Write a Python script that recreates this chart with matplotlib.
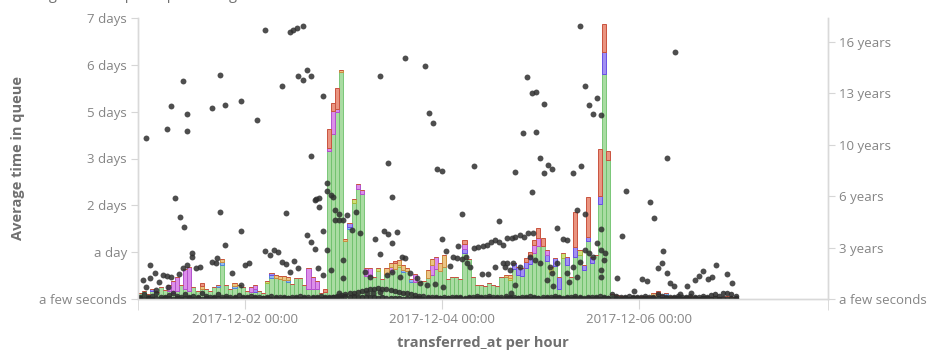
import matplotlib
matplotlib.use('Agg')
import matplotlib.pyplot as plt
import matplotlib.dates as mdates
from datetime import datetime, timedelta
import numpy as np

plt.rcParams['font.family'] = ['Open Sans', 'DejaVu Sans']

# hourly buckets, first bucket 2017-11-30 22:00
start = datetime(2017, 11, 30, 22)

# total bar height per hour (hours in queue)
bar_total_h = [
    3.5, 4.7, 3.0, 5.9, 4.1, 7.1, 5.3, 8.3, 10.6, 13.0, 8.3, 17.7, 18.9, 7.1, 4.7, 9.5,
    5.9, 4.7, 7.1, 8.3, 23.6, 8.3, 5.9, 9.5, 8.3, 7.1, 4.7, 7.1, 8.3, 4.7, 3.5, 10.6,
    15.4, 14.2, 13.6, 13.6, 13.0, 8.9, 12.4, 12.4, 8.3, 18.3, 13.0, 10.6, 3.5, 5.9,
    101.0, 116.4, 125.3, 135.9, 35.5, 44.9, 59.1, 68.0, 64.4,
    18.3, 18.3, 13.0, 18.3, 11.8, 18.3, 21.3, 22.5, 23.0,
    20.1, 18.3, 11.8, 14.8, 10.0, 10.6, 17.1, 23.6, 24.8, 21.3, 26.0, 11.8, 13.0, 13.0,
    11.8, 34.9, 23.6, 13.0, 8.3, 8.3, 7.7, 9.5, 8.3, 7.7,
    13.0, 14.2, 14.2, 21.3, 18.9, 18.3, 24.2, 27.8, 34.9, 42.0, 36.0, 29.0, 18.9, 24.2,
    13.0, 27.2, 24.8, 13.0, 51.4, 29.0, 20.1, 60.3, 24.8, 26.0, 89.2, 163.1, 87.5,
    3.0, 2.4, 1.8, 1.8, 1.2, 1.8, 1.2, 1.8, 1.2, 1.8, 3.5, 4.7, 2.4, 3.5, 1.8, 1.2,
    1.8, 1.2, 1.2, 1.8, 1.2, 1.2, 1.8, 1.2, 1.2, 1.8, 1.2, 1.2, 1.8, 1.2, 1.2,
]

# other storage elements: bucket index -> hours
yellow_idx = [31, 52, 58, 63, 90, 100, 103, 107]
yellow_h = [1.2, 2.4, 1.8, 1.2, 1.2, 3.0, 3.0, 3.0]

blue_idx = [19, 20, 23, 32, 36, 51, 64, 66, 128]
blue_h = [1.2, 1.8, 1.2, 1.8, 1.2, 1.2, 1.2, 1.8, 1.8]

purple_idx = [3, 28, 32, 51, 79, 91, 92, 93, 94, 95, 99, 101, 102, 104, 106, 108,
              109, 110, 112, 113, 127]
purple_h = [1.2, 1.8, 1.2, 2.4, 2.4, 3.5, 4.7, 4.7, 3.5, 4.7, 3.5, 4.7, 7.1, 4.7, 5.9, 3.0,
            2.4, 3.5, 4.7, 13.0, 1.2]

magenta_idx = [7, 8, 9, 11, 12, 27, 28, 41, 42, 43, 46, 47, 48, 53, 54, 55, 56, 61, 67,
               71, 72, 79, 96, 97, 99]
magenta_h = [3.5, 7.1, 8.3, 11.8, 14.2, 3.0, 2.4, 12.4, 7.1, 4.7, 1.8, 13.6, 1.8, 3.0, 2.4,
             4.7, 4.7, 3.0, 4.7, 5.9, 7.1, 3.0, 4.7, 4.7, 3.0]

orange_idx = [15, 20, 23, 33, 34, 35, 36, 49, 50, 60, 61, 62, 63, 64, 65, 70, 71, 73, 74,
              89, 90, 125]
orange_h = [1.8, 1.8, 1.8, 1.8, 1.8, 2.4, 1.8, 1.2, 1.2, 3.5, 2.4, 3.5, 3.0, 3.0, 1.8, 4.7,
            3.5, 4.7, 7.1, 1.2, 1.8, 1.8]

red_idx = [15, 45, 46, 47, 48, 62, 79, 94, 95, 96, 97, 98, 106, 109, 112, 113, 114, 126]
red_h = [1.8, 1.8, 11.2, 4.7, 12.4, 1.2, 2.4, 2.4, 2.4, 3.0, 5.9, 4.7, 20.7, 23.6, 28.4,
         16.5, 5.3, 1.8]

# scatter (right axis): hour offset from start, value in years
dot_t = [
    2.05, 7.07, 8.14, 10.96, 12.04, 12.04, 9.11, 10.16, 11.14, 18.03, 20.08, 21.13, 25.02,
    20.08, 21.13, 25.02, 29.0, 31.04, 36.96, 37.77, 38.6, 40.06, 35.01, 38.99, 40.06, 41.03,
    42.08, 44.93, 42.0, 43.06, 43.3, 44.1, 44.1, 35.99, 41.03, 42.08, 43.06, 44.93, 45.91,
    45.91, 46.95, 47.37, 47.93, 48.98, 47.93, 48.98, 49.95, 50.93, 52.0, 52.97, 54.02, 49.95,
    49.95, 45.91, 46.95, 48.98, 45.08, 30.87, 32.09, 33.14, 34.11, 34.94, 35.99, 38.01, 36.96,
    38.99, 26.0, 27.05, 23.0, 25.02, 19.1, 18.03, 19.25, 13.16, 13.16, 14.23, 15.03, 11.94,
    10.96, 9.99, 8.14, 6.09, 7.07, 4.07, 3.02, 3.02, 1.22, 5.12, 2.05, 4.31, 7.31,
    58.9, 64.99, 69.86, 60.92, 61.89, 70.91, 71.88, 72.86, 73.93, 81.87, 78.87, 87.89, 91.79,
    93.81, 94.79, 95.86, 96.91, 96.91, 98.86, 97.88, 99.83, 100.8, 98.86, 95.86, 105.85,
    107.55, 106.82, 59.94, 60.92, 62.96, 61.89, 58.89, 57.68, 64.18, 64.99, 73.93, 74.98,
    75.95, 77.83, 81.87, 82.85, 83.92, 84.89, 85.87, 86.84, 87.89, 88.94, 89.77, 90.99,
    91.79, 93.0, 93.98, 95.03, 96.25, 76.75, 77.73, 78.8, 79.78, 80.02, 80.82, 85.28, 83.82,
    86.92, 88.94, 55.24, 56.46, 60.53, 61.74, 63.77, 66.2, 67.84, 68.64, 70.27, 72.3, 74.32,
    55.65, 57.26, 58.89, 89.77, 91.37, 93.0, 100.32, 101.95, 104.39, 103.56, 101.95,
    108.84, 109.75, 110.87, 111.77, 112.74, 130.77, 128.75, 118.76, 124.76, 125.73, 117.79,
    108.84, 107.8, 112.67, 111.7, 112.67, 113.65, 113.55, 112.67, 112.67, 110.87, 109.75,
    108.84, 107.63, 105.99, 104.39, 105.02, 106.82, 100.73, 99.51, 100.97, 97.88, 96.66,
    95.44, 90.57, 89.36, 91.79, 90.81, 127.78, 127.68, 126.71, 128.75, 129.56, 130.6, 116.71,
    122.81, 123.88, 133.63, 135.65, 136.62, 137.67, 138.74, 139.72, 140.69, 143.52, 144.74,
    120.78, 131.99, 134.67, 43.79,
]
dot_y = [
    9.95, 10.47, 11.91, 13.45, 11.40, 10.37, 6.25, 5.06, 4.42, 11.80, 13.84, 11.99, 12.23,
    5.35, 3.31, 4.20, 11.03, 16.58, 16.47, 16.60, 16.70, 16.84, 13.14, 13.72, 13.51, 14.13,
    13.72, 12.53, 8.84, 6.11, 6.17, 6.23, 5.66, 5.32, 3.95, 3.54, 3.10, 4.18, 7.18,
    6.68, 6.42, 6.31, 5.49, 5.24, 4.87, 4.87, 4.87, 5.18, 4.26, 5.37, 4.05, 2.41,
    1.28, 3.02, 1.79, 0.35, 1.48, 2.96, 2.71, 3.02, 2.88, 2.30, 2.14, 2.34, 1.68,
    1.89, 2.10, 2.20, 1.59, 0.86, 2.20, 2.30, 2.51, 2.86, 2.61, 1.89, 1.99, 2.10,
    1.89, 1.54, 1.38, 1.48, 1.42, 1.59, 2.10, 1.28, 1.17, 1.07, 0.76, 0.56, 0.76,
    13.72, 14.85, 14.39, 8.41, 6.27, 11.46, 10.84, 8.02, 7.88, 8.21, 5.23, 4.79, 7.82,
    10.22, 13.68, 12.73, 12.79, 10.29, 12.05, 8.70, 8.25, 8.04, 7.76, 6.58, 7.79,
    16.84, 5.47, 4.20, 3.99, 4.12, 3.44, 2.76, 3.70, 2.61, 2.51, 3.68, 2.98,
    2.04, 3.27, 3.13, 3.23, 3.27, 3.33, 3.54, 3.64, 3.54, 3.33, 3.75, 3.75,
    3.81, 3.95, 3.81, 4.05, 4.05, 2.61, 2.51, 2.45, 2.61, 2.20, 1.99, 1.52, 1.54,
    1.99, 2.20, 1.68, 1.38, 1.48, 1.68, 1.38, 1.59, 1.28, 1.01, 0.86, 0.91, 0.76,
    0.35, 0.35, 0.45, 2.20, 2.20, 1.99, 1.99, 2.20, 3.64, 3.68, 4.36,
    13.16, 11.95, 11.40, 12.42, 11.33, 15.20, 8.68, 6.66, 6.00, 5.00, 3.89,
    5.23, 8.21, 4.30, 3.47, 3.02, 2.82, 2.41, 1.79, 1.34, 2.61, 2.82,
    3.02, 2.30, 1.99, 1.59, 1.07, 1.38, 1.59, 1.17, 0.82, 2.20, 2.41,
    2.61, 1.79, 1.99, 0.86, 0.39, 2.96, 2.20, 1.89, 1.59, 0.97, 0.82, 1.31,
    1.22, 1.11, 0.82, 1.17, 1.42, 1.75, 1.22, 1.38, 2.10, 1.52, 0.97,
    0.49, 0.31, 0.35, 1.89,
]

# dense row of dots along the bottom, one per hour bucket (years)
low_y = [
    0.15, 0.3, 0.1, 0.2, 0.35, 0.15, 0.1, 0.25, 0.4, 0.2, 0.1, 0.3, 0.15, 0.2, 0.1, 0.35,
    0.2, 0.1, 0.15, 0.3, 0.1, 0.2, 0.15, 0.1, 0.25, 0.1, 0.1, 0.2, 0.15, 0.1, 0.05, 0.1,
    0.2, 0.15, 0.1, 0.1, 0.05, 0.15, 0.1, 0.2, 0.1, 0.1, 0.15, 0.1, 0.2, 0.1,
    0.1, 0.15, 0.2, 0.25, 0.3, 0.35, 0.4, 0.45, 0.5, 0.55, 0.6, 0.62, 0.65, 0.62, 0.6, 0.55,
    0.5, 0.45, 0.4, 0.35, 0.3, 0.25, 0.2, 0.2, 0.15, 0.1, 0.1, 0.05, 0.1, 0.05, 0.1, 0.15,
    0.1, 0.05, 0.1, 0.15, 0.2, 0.15, 0.1, 0.2, 0.1, 0.15,
    0.1, 0.2, 0.15, 0.1, 0.05, 0.1, 0.15, 0.2, 0.1, 0.05, 0.1, 0.15, 0.1, 0.2, 0.1, 0.05,
    0.1, 0.15, 0.2, 0.1, 0.05, 0.1, 0.15, 0.1, 0.2, 0.1, 0.05,
    0.3, 0.2, 0.1, 0.15, 0.2, 0.1, 0.15, 0.1, 0.2, 0.1, 0.15, 0.3, 0.2, 0.1, 0.15, 0.1,
    0.2, 0.1, 0.15, 0.2, 0.1, 0.15, 0.2, 0.1, 0.25, 0.3, 0.2, 0.35, 0.4, 0.3, 0.2,
]
floor_y = [
    0.05, 0.02, 0.08, 0.03, 0.06, 0.02, 0.04, 0.07, 0.03, 0.05, 0.02, 0.06, 0.04, 0.03, 0.08,
    0.02, 0.05, 0.03, 0.06, 0.04, 0.02, 0.07, 0.03, 0.05, 0.02, 0.04, 0.06, 0.03, 0.05, 0.02,
    0.04, 0.07, 0.03, 0.05, 0.02, 0.06, 0.04, 0.03, 0.08, 0.02, 0.05, 0.03, 0.06, 0.04, 0.02,
    0.07, 0.08, 0.1, 0.12, 0.15, 0.18, 0.15, 0.18, 0.15, 0.12, 0.1, 0.12, 0.1, 0.08, 0.1, 0.06,
    0.08, 0.05, 0.05, 0.03, 0.06, 0.02, 0.04, 0.07, 0.03, 0.05, 0.02, 0.04, 0.06, 0.03, 0.05,
    0.02, 0.04, 0.07, 0.03, 0.05, 0.02, 0.06, 0.04, 0.03, 0.08, 0.02, 0.05, 0.03, 0.06, 0.04,
    0.02, 0.07, 0.03, 0.05, 0.02, 0.04, 0.06, 0.03, 0.05, 0.02, 0.04, 0.07, 0.03, 0.05, 0.02,
    0.06, 0.04, 0.03, 0.08, 0.02, 0.05, 0.03, 0.06, 0.04, 0.02, 0.07, 0.03, 0.05, 0.02, 0.04,
    0.06, 0.03, 0.05, 0.02, 0.04, 0.07, 0.03, 0.05, 0.02, 0.06, 0.04, 0.03, 0.08, 0.02, 0.05,
    0.03, 0.06, 0.04, 0.02, 0.07, 0.03, 0.05, 0.02, 0.04, 0.06,
]

left_labels = ['a few seconds', 'a day', '2 days', '3 days', '5 days', '6 days', '7 days']
right_labels = ['a few seconds', '3 years', '6 years', '10 years', '13 years', '16 years']
x_tick_days = [datetime(2017, 12, 2), datetime(2017, 12, 4), datetime(2017, 12, 6)]

n = len(bar_total_h)
total = np.array(bar_total_h)
series = [
    ('yellow', yellow_idx, yellow_h, '#cfe07a', '#a4b83c'),
    ('blue', blue_idx, blue_h, '#92b9ee', '#4f86d8'),
    ('purple', purple_idx, purple_h, '#a290f2', '#6a52e4'),
    ('magenta', magenta_idx, magenta_h, '#dc8eea', '#b452cc'),
    ('orange', orange_idx, orange_h, '#ecc484', '#c8903c'),
    ('red', red_idx, red_h, '#ea9480', '#c9533f'),
]
parts = {}
for name, idx, vals, fc, ec in series:
    a = np.zeros(n)
    a[idx] = vals
    parts[name] = a
green = total - sum(parts.values())

times = [start + timedelta(hours=i) for i in range(n)]
xnum = mdates.date2num(times)
w = 1 / 24

fig = plt.figure(figsize=(9.34, 3.58), dpi=100)
ax = fig.add_axes([138 / 934, 1 - 299 / 358, 690 / 934, 281 / 358])

bottom = np.zeros(n)
ax.bar(xnum, green, width=w, align='edge', bottom=bottom, color='#a9dca2',
       edgecolor='#6cc06a', linewidth=0.6)
bottom = bottom + green
for name, idx, vals, fc, ec in series:
    ax.bar(xnum, parts[name], width=w, align='edge', bottom=bottom, color=fc,
           edgecolor=ec, linewidth=0.7)
    bottom = bottom + parts[name]

sec_h = 100000 / 3600
ax.set_ylim(0, 6 * sec_h)
ax.set_yticks([k * sec_h for k in range(7)])
ax.set_yticklabels(left_labels)
ax.set_xlim(mdates.date2num(start), mdates.date2num(start + timedelta(days=7)))
ax.set_xticks(mdates.date2num(x_tick_days))
ax.set_xticklabels([d.strftime('%Y-%m-%d %H:%M') for d in x_tick_days])
ax.set_xticks(ax.get_xlim(), minor=True)
ax.tick_params(axis='x', which='minor', length=8, color='#d6d6d6')

ax2 = ax.twinx()
yr = 1e8 / (365.25 * 86400)
dt = [mdates.date2num(start + timedelta(hours=t)) for t in dot_t]
ax2.scatter(xnum + w * 0.5, floor_y, s=16, color='#2b2b2b', alpha=0.9, linewidths=0)
ax2.scatter(xnum + w * 0.5, low_y, s=16, color='#2b2b2b', alpha=0.85, linewidths=0)
ax2.scatter(dt, dot_y, s=18, color='#2f2f2f', alpha=0.85, linewidths=0)
ax2.set_ylim(0, 281 / 51.4 * yr)
ax2.set_yticks([k * yr for k in range(6)])
ax2.set_yticklabels(right_labels)

for a in (ax, ax2):
    for s in a.spines.values():
        s.set_color('#d9d9d9')
        s.set_linewidth(1.0)
    a.spines['top'].set_visible(False)
    a.tick_params(which='major', colors='#d6d6d6', labelcolor='#858585', labelsize=9.5,
                  length=5)
ax.tick_params(axis='x', length=7, pad=3)
ax.tick_params(axis='y', pad=3)
ax2.tick_params(axis='y', pad=3)

fig.text(18 / 934, 1 - 158 / 358, 'Average time in queue', rotation=90, ha='center',
         va='center', fontsize=10.5, fontweight='bold', color='#707070')
fig.text(483 / 934, 1 - 343 / 358, 'transferred_at per hour', ha='center', va='center',
         fontsize=10.5, fontweight='bold', color='#707070')
# title sits above the visible area in the source, only its lower part shows
fig.text(10 / 934, 1.012, 'Average time in queue per storage element', ha='left',
         va='center', fontsize=10.5, color='#707070')

fig.savefig('out.png', dpi=100)
